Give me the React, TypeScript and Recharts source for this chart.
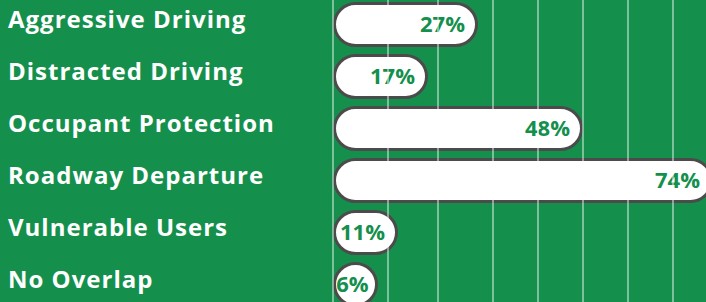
import { BarChart, Bar, XAxis, YAxis, ReferenceLine } from 'recharts'

const categories = [
  'Aggressive Driving',
  'Distracted Driving',
  'Occupant Protection',
  'Roadway Departure',
  'Vulnerable Users',
  'No Overlap',
]
const shares = [27, 17, 48, 74, 11, 6]
const gridValues = [-2, 9, 19, 30, 39, 48, 57, 66]

const data = categories.map((name, i) => ({ name, share: shares[i] }))

const GREEN = '#148f4c'
const FONT = '"Open Sans", Lato, sans-serif'
const VALUE_SIZE = 22

// pill starts at the left edge of the plot, ends at the value; label sits inside the right end
const PillBar = (props: any) => {
  const { x, y, width, height, background, payload } = props
  const left = background && background.x != null ? background.x : x
  const end = x + width
  const w = end - left
  const sw = 3
  const label = `${payload.share}%`
  const estWidth = (label.length - 1) * VALUE_SIZE * 0.6 + VALUE_SIZE * 0.88
  const textEnd = Math.max(end - 13, left + 3 + estWidth)
  return (
    <g>
      <rect
        x={left + sw / 2}
        y={y + sw / 2}
        width={Math.max(w - sw, height - sw)}
        height={height - sw}
        rx={(height - sw) / 2}
        fill="#fff"
        stroke="#4b4b4b"
        strokeWidth={sw}
      />
      <text
        x={textEnd}
        y={y + height / 2}
        dy="0.36em"
        textAnchor="end"
        fill={GREEN}
        fontFamily={FONT}
        fontWeight={700}
        fontSize={VALUE_SIZE}
      >
        {label}
      </text>
    </g>
  )
}

const CategoryTick = ({ y, payload }: any) => (
  <text
    x={8}
    y={y - 5}
    dy="0.36em"
    textAnchor="start"
    fill="#fff"
    fontFamily={FONT}
    fontWeight={700}
    fontSize={24}
    letterSpacing={1}
  >
    {payload.value}
  </text>
)

export default function App() {
  return (
    <div
      style={{
        position: 'absolute',
        left: 0,
        top: 0,
        width: 706,
        height: 302,
        overflow: 'hidden',
        background: GREEN,
        fontFamily: FONT,
      }}
    >
      <div style={{ position: 'absolute', left: 0, top: -2 }}>
        <BarChart
          width={743}
          height={312}
          data={data}
          layout="vertical"
          margin={{ top: 0, right: 0, bottom: 0, left: 0 }}
          barSize={45}
          barCategoryGap={0}
        >
          <XAxis type="number" domain={[-2, 80]} hide />
          <YAxis
            type="category"
            dataKey="name"
            width={333}
            axisLine={false}
            tickLine={false}
            tick={<CategoryTick />}
            interval={0}
          />
          {gridValues.map((v) => (
            <ReferenceLine key={v} x={v} stroke="rgba(255,255,255,0.75)" strokeWidth={1.2} />
          ))}
          <Bar dataKey="share" shape={<PillBar />} isAnimationActive={false} />
        </BarChart>
      </div>
    </div>
  )
}
